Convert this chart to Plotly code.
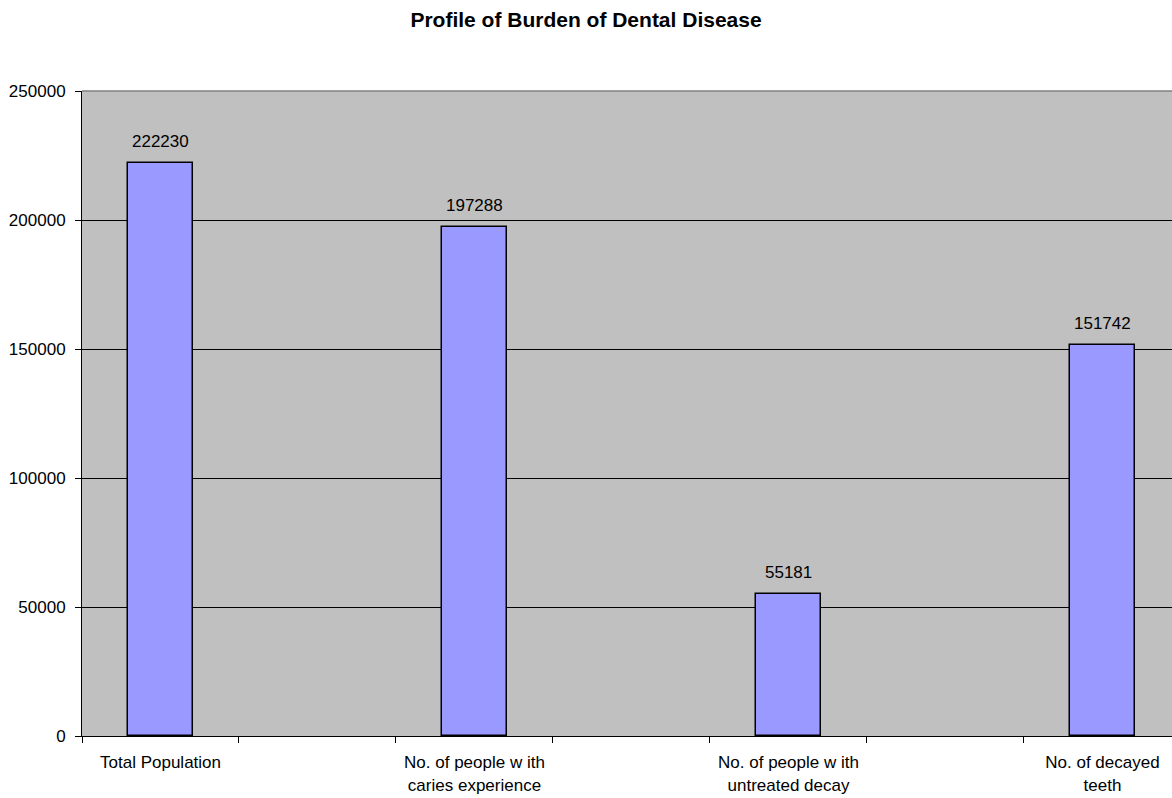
import plotly.graph_objects as go

# Category slots: labelled measures alternate with empty spacer slots
categories = [
    "Total Population",
    " ",
    "No. of people w ith<br>caries experience",
    "  ",
    "No. of people w ith<br>untreated decay",
    "   ",
    "No. of decayed<br>teeth",
]
values = [222230, None, 197288, None, 55181, None, 151742]
y_ticks = [0, 50000, 100000, 150000, 200000, 250000]

FONT = "Liberation Sans, Arial, sans-serif"

fig = go.Figure()
fig.add_trace(go.Bar(
    x=categories,
    y=values,
    width=0.41,
    marker=dict(color="#9999FF", line=dict(color="black", width=1.5)),
    hoverinfo="x+y",
))

# value labels above each bar
for cat, val in zip(categories, values):
    if val is None:
        continue
    fig.add_annotation(
        x=cat, y=val, text=str(val), showarrow=False,
        yanchor="bottom", yshift=10,
        font=dict(family=FONT, size=17, color="black"),
    )

fig.update_layout(
    width=1172, height=798,
    margin=dict(l=82, r=0, t=91, b=62),
    paper_bgcolor="white",
    plot_bgcolor="#C0C0C0",
    showlegend=False,
    bargap=0,
    font=dict(family=FONT, size=17, color="black"),
    title=dict(
        text="<b>Profile of Burden of Dental Disease</b>",
        x=0.5, xanchor="center", y=0.975, yanchor="middle",
        font=dict(family=FONT, size=21, color="black"),
    ),
    xaxis=dict(
        type="category",
        categoryorder="array", categoryarray=categories,
        range=[-0.5, 6.443],
        tickson="boundaries",
        ticks="outside", ticklen=6, tickcolor="black", tickwidth=1,
        showgrid=False, zeroline=False,
        showline=True, linecolor="black", linewidth=1,
        tickfont=dict(family=FONT, size=17, color="black"),
        ticklabelstandoff=11,
    ),
    yaxis=dict(
        range=[0, 250000],
        tickvals=y_ticks,
        ticktext=[str(v) for v in y_ticks],
        ticks="outside", ticklen=6, tickcolor="black", tickwidth=1,
        showgrid=True, gridcolor="black", gridwidth=1,
        zeroline=False,
        showline=True, linecolor="black", linewidth=1,
        tickfont=dict(family=FONT, size=17, color="black"),
        ticklabelstandoff=6,
    ),
)

# grey border along the top of the plotting area
fig.add_shape(type="line", xref="paper", yref="paper",
              x0=0, x1=1, y0=1, y1=1,
              line=dict(color="#808080", width=1.5))

fig.write_html("out.html")
